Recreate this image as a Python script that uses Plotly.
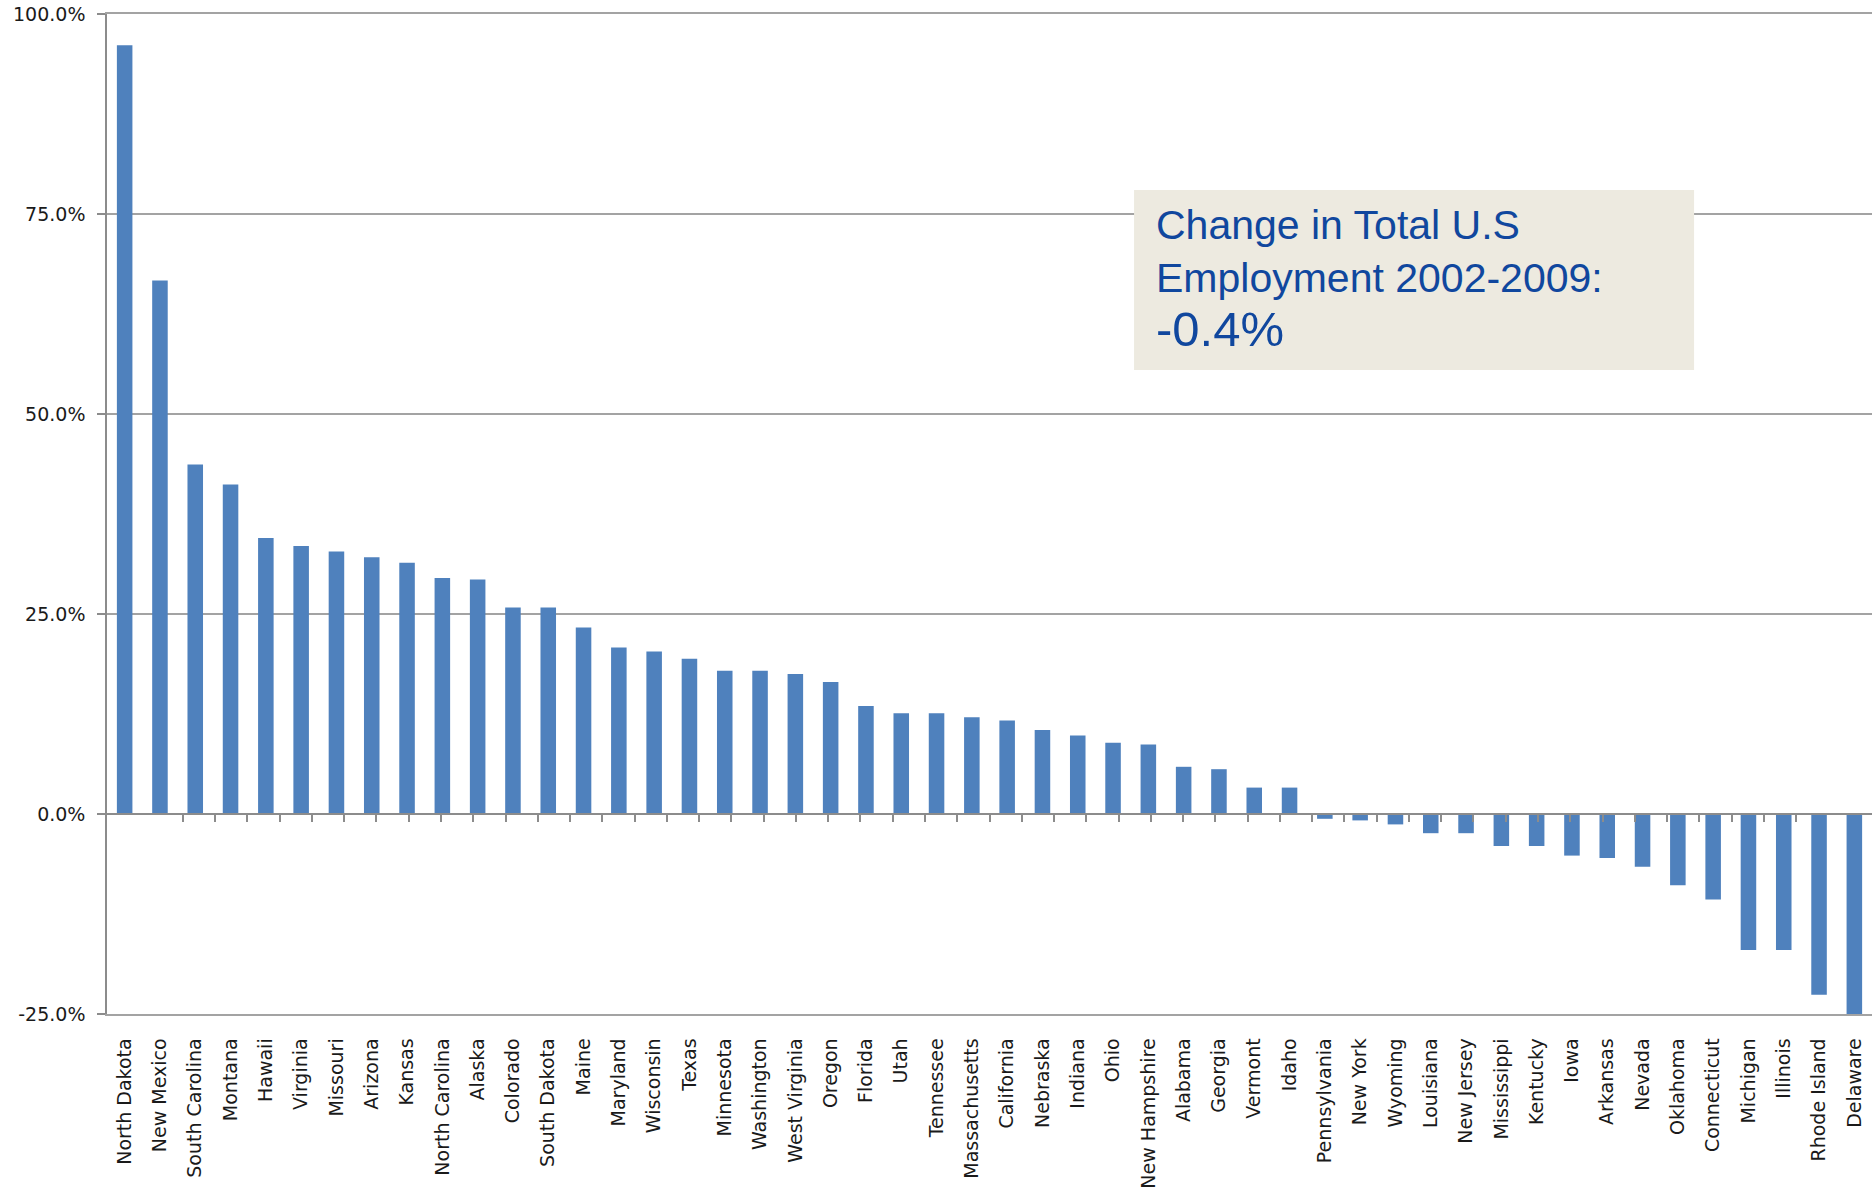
import plotly.graph_objects as go

states = ["North Dakota", "New Mexico", "South Carolina", "Montana", "Hawaii", "Virginia",
          "Missouri", "Arizona", "Kansas", "North Carolina", "Alaska", "Colorado",
          "South Dakota", "Maine", "Maryland", "Wisconsin", "Texas", "Minnesota",
          "Washington", "West Virginia", "Oregon", "Florida", "Utah", "Tennessee",
          "Massachusetts", "California", "Nebraska", "Indiana", "Ohio", "New Hampshire",
          "Alabama", "Georgia", "Vermont", "Idaho", "Pennsylvania", "New York", "Wyoming",
          "Louisiana", "New Jersey", "Mississippi", "Kentucky", "Iowa", "Arkansas", "Nevada",
          "Oklahoma", "Connecticut", "Michigan", "Illinois", "Rhode Island", "Delaware"]

change_pct = [96.1, 66.7, 43.7, 41.2, 34.5, 33.5,
              32.8, 32.1, 31.4, 29.5, 29.3, 25.8,
              25.8, 23.3, 20.8, 20.3, 19.4, 17.9,
              17.9, 17.5, 16.5, 13.5, 12.6, 12.6,
              12.1, 11.7, 10.5, 9.8, 8.9, 8.7,
              5.9, 5.6, 3.3, 3.3, -0.6, -0.8, -1.3,
              -2.4, -2.4, -4.0, -4.0, -5.2, -5.5, -6.6,
              -8.9, -10.7, -17.0, -17.0, -22.6, -25.4]

y_ticks = [-25, 0, 25, 50, 75, 100]
y_tick_labels = ["-25.0%", "0.0%", "25.0%", "50.0%", "75.0%", "100.0%"]

note_lines = ["Change in Total U.S", "Employment 2002-2009:"]
note_value = "-0.4%"

BAR = "#4F81BD"
GRID = "#a3a3a3"
AXIS = "#8c8c8c"
TXT = "#1a1a1a"
LABEL_FONT = "DejaVu Sans"

fig = go.Figure()
fig.add_trace(go.Bar(x=states, y=change_pct, marker=dict(color=BAR, line=dict(width=0)),
                     xaxis="x", yaxis="y", showlegend=False))
# helper trace for the zero-crossing category axis (tick marks on the 0 line)
fig.add_trace(go.Scatter(x=states, y=[0] * len(states), mode="markers",
                         marker=dict(opacity=0), xaxis="x2", yaxis="y",
                         hoverinfo="skip", showlegend=False))

ymin, ymax = -25, 100

fig.update_layout(
    width=1875, height=1195,
    margin=dict(l=107, r=3, t=14, b=181),
    plot_bgcolor="white", paper_bgcolor="white",
    bargap=0.56,
    font=dict(family=LABEL_FONT, color=TXT),
    xaxis=dict(type="category", categoryorder="array", categoryarray=states,
               tickangle=-90, tickfont=dict(family=LABEL_FONT, size=19, color=TXT),
               showgrid=False, ticks="", showline=True, mirror=True,
               linecolor=GRID, linewidth=1.5, ticklabelstandoff=15),
    xaxis2=dict(type="category", categoryorder="array", categoryarray=states,
                overlaying="x", anchor="free", position=(0 - ymin) / (ymax - ymin),
                showline=True, linecolor=AXIS, linewidth=1.5,
                ticks="outside", ticklen=7, tickwidth=1.5, tickcolor=AXIS,
                tickson="boundaries", showticklabels=False, showgrid=False),
    yaxis=dict(range=[ymin, ymax], tickmode="array", tickvals=y_ticks, ticktext=y_tick_labels,
               tickfont=dict(family=LABEL_FONT, size=19, color=TXT),
               showgrid=True, gridcolor=GRID, gridwidth=1.5, zeroline=False,
               showline=True, linecolor=AXIS, linewidth=1.5,
               ticks="outside", ticklen=8, tickwidth=1.5, tickcolor=AXIS,
               ticklabelstandoff=8),
)

fig.add_shape(type="rect", xref="paper", yref="paper",
              x0=0.5819, x1=0.8992, y0=0.644, y1=0.824,
              fillcolor="#EDEAE0", line=dict(width=0), layer="above")

fig.add_annotation(xref="paper", yref="paper", x=0.5932, y=0.814,
                   xanchor="left", yanchor="top", align="left", showarrow=False,
                   text="<br>".join(note_lines) + "<br><span style='font-size:49px'>" + note_value + "</span>",
                   font=dict(family="Liberation Sans", size=41, color="#10479E"))

fig.write_html("out.html", config={"displayModeBar": False},
               post_script="document.body.style.margin='0';")
